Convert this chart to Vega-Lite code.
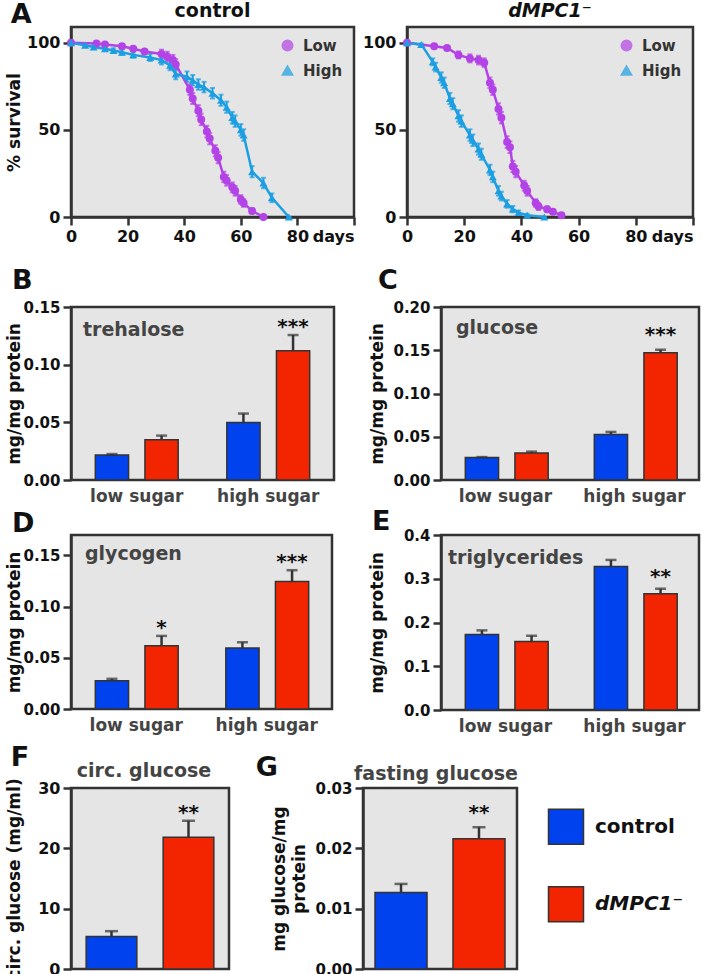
{
"$schema": "https://vega.github.io/schema/vega-lite/v6.json",
"autosize": {"type": "pad"},
"padding": {"left": 3, "top": 0, "right": 2, "bottom": 2},
"background": "white",
"config": {
  "font": "DejaVu Sans",
  "view": {"fill": "#E5E5E5", "stroke": "#333333", "strokeWidth": 2.5},
  "axis": {"labelFontWeight": "bold", "labelColor": "#111111", "labelFontSize": 15, "titleFontWeight": "bold", "titleColor": "#111111", "titleFontSize": 17, "domainColor": "#333333", "domainWidth": 2.5, "tickColor": "#333333", "tickWidth": 2.5, "tickSize": 8, "labelPadding": 3, "grid": false},
  "title": {"fontWeight": "bold", "color": "#111111"}
},
"datasets": {
  "surv": [
    {"g":"control","diet":"Low","day":0,"s":100,"lo":100,"hi":100},
    {"g":"control","diet":"Low","day":9,"s":99.6,"lo":99.2,"hi":100},
    {"g":"control","diet":"Low","day":12,"s":99,"lo":98.2,"hi":99.8},
    {"g":"control","diet":"Low","day":18,"s":98,"lo":97,"hi":99},
    {"g":"control","diet":"Low","day":22,"s":96.5,"lo":95.3,"hi":97.7},
    {"g":"control","diet":"Low","day":26,"s":95,"lo":93.7,"hi":96.3},
    {"g":"control","diet":"Low","day":32,"s":93.5,"lo":91,"hi":96},
    {"g":"control","diet":"Low","day":34,"s":92,"lo":89.2,"hi":94.8},
    {"g":"control","diet":"Low","day":36,"s":90,"lo":87,"hi":93},
    {"g":"control","diet":"Low","day":37,"s":87.5,"lo":84.5,"hi":90.5},
    {"g":"control","diet":"Low","day":42,"s":73,"lo":70,"hi":76},
    {"g":"control","diet":"Low","day":43,"s":68,"lo":64.8,"hi":71.2},
    {"g":"control","diet":"Low","day":45,"s":61,"lo":57.8,"hi":64.2},
    {"g":"control","diet":"Low","day":46,"s":56,"lo":52.7,"hi":59.3},
    {"g":"control","diet":"Low","day":48,"s":49,"lo":45.7,"hi":52.3},
    {"g":"control","diet":"Low","day":49,"s":45,"lo":41.7,"hi":48.3},
    {"g":"control","diet":"Low","day":51,"s":38,"lo":34.8,"hi":41.2},
    {"g":"control","diet":"Low","day":52,"s":34,"lo":30.8,"hi":37.2},
    {"g":"control","diet":"Low","day":54,"s":23,"lo":20,"hi":26},
    {"g":"control","diet":"Low","day":55,"s":21,"lo":18,"hi":24},
    {"g":"control","diet":"Low","day":57,"s":17,"lo":14.2,"hi":19.8},
    {"g":"control","diet":"Low","day":58,"s":15,"lo":12.2,"hi":17.8},
    {"g":"control","diet":"Low","day":60,"s":10,"lo":7.5,"hi":12.5},
    {"g":"control","diet":"Low","day":61,"s":8,"lo":5.8,"hi":10.2},
    {"g":"control","diet":"Low","day":64,"s":3.5,"lo":2,"hi":5},
    {"g":"control","diet":"Low","day":68,"s":0,"lo":0,"hi":0},
    {"g":"control","diet":"High","day":0,"s":100,"lo":100,"hi":100},
    {"g":"control","diet":"High","day":5,"s":98.5,"lo":97.7,"hi":99.3},
    {"g":"control","diet":"High","day":8,"s":97.5,"lo":96.5,"hi":98.5},
    {"g":"control","diet":"High","day":12,"s":96.5,"lo":95.3,"hi":97.7},
    {"g":"control","diet":"High","day":15,"s":95.5,"lo":94.2,"hi":96.8},
    {"g":"control","diet":"High","day":18,"s":94.5,"lo":93,"hi":96},
    {"g":"control","diet":"High","day":22,"s":93,"lo":91.4,"hi":94.6},
    {"g":"control","diet":"High","day":28,"s":91.5,"lo":89.5,"hi":93.5},
    {"g":"control","diet":"High","day":32,"s":90,"lo":87.5,"hi":92.5},
    {"g":"control","diet":"High","day":35,"s":87,"lo":84.2,"hi":89.8},
    {"g":"control","diet":"High","day":37,"s":82,"lo":79,"hi":85},
    {"g":"control","diet":"High","day":41,"s":80.5,"lo":77.5,"hi":83.5},
    {"g":"control","diet":"High","day":43,"s":78.5,"lo":75.5,"hi":81.5},
    {"g":"control","diet":"High","day":45,"s":76,"lo":73,"hi":79},
    {"g":"control","diet":"High","day":47,"s":74.5,"lo":71.5,"hi":77.5},
    {"g":"control","diet":"High","day":50,"s":71,"lo":68,"hi":74},
    {"g":"control","diet":"High","day":53,"s":67,"lo":63.8,"hi":70.2},
    {"g":"control","diet":"High","day":55,"s":63,"lo":59.8,"hi":66.2},
    {"g":"control","diet":"High","day":57,"s":57,"lo":53.7,"hi":60.3},
    {"g":"control","diet":"High","day":58,"s":55,"lo":51.7,"hi":58.3},
    {"g":"control","diet":"High","day":60,"s":50,"lo":46.7,"hi":53.3},
    {"g":"control","diet":"High","day":61,"s":47,"lo":43.7,"hi":50.3},
    {"g":"control","diet":"High","day":64,"s":26,"lo":22.8,"hi":29.2},
    {"g":"control","diet":"High","day":68,"s":19.5,"lo":16.5,"hi":22.5},
    {"g":"control","diet":"High","day":71,"s":11,"lo":8.5,"hi":13.5},
    {"g":"control","diet":"High","day":77,"s":0,"lo":0,"hi":0},
    {"g":"dMPC1","diet":"Low","day":0,"s":100,"lo":100,"hi":100},
    {"g":"dMPC1","diet":"Low","day":9.5,"s":98,"lo":97.2,"hi":98.8},
    {"g":"dMPC1","diet":"Low","day":14,"s":97,"lo":96,"hi":98},
    {"g":"dMPC1","diet":"Low","day":18,"s":93,"lo":91,"hi":95},
    {"g":"dMPC1","diet":"Low","day":22,"s":91,"lo":88.7,"hi":93.3},
    {"g":"dMPC1","diet":"Low","day":25,"s":90,"lo":87.5,"hi":92.5},
    {"g":"dMPC1","diet":"Low","day":27,"s":88.5,"lo":86,"hi":91},
    {"g":"dMPC1","diet":"Low","day":29,"s":77,"lo":74,"hi":80},
    {"g":"dMPC1","diet":"Low","day":30,"s":73,"lo":70,"hi":76},
    {"g":"dMPC1","diet":"Low","day":32,"s":62,"lo":58.8,"hi":65.2},
    {"g":"dMPC1","diet":"Low","day":33,"s":57,"lo":53.7,"hi":60.3},
    {"g":"dMPC1","diet":"Low","day":35,"s":43,"lo":39.7,"hi":46.3},
    {"g":"dMPC1","diet":"Low","day":36,"s":40,"lo":36.7,"hi":43.3},
    {"g":"dMPC1","diet":"Low","day":37,"s":29,"lo":25.8,"hi":32.2},
    {"g":"dMPC1","diet":"Low","day":38,"s":26,"lo":22.8,"hi":29.2},
    {"g":"dMPC1","diet":"Low","day":41,"s":18,"lo":15.2,"hi":20.8},
    {"g":"dMPC1","diet":"Low","day":42,"s":15,"lo":12.2,"hi":17.8},
    {"g":"dMPC1","diet":"Low","day":45,"s":8,"lo":5.8,"hi":10.2},
    {"g":"dMPC1","diet":"Low","day":46,"s":6,"lo":4,"hi":8},
    {"g":"dMPC1","diet":"Low","day":49,"s":4.5,"lo":3,"hi":6},
    {"g":"dMPC1","diet":"Low","day":51,"s":3,"lo":1.8,"hi":4.2},
    {"g":"dMPC1","diet":"Low","day":54,"s":1,"lo":0.2,"hi":1.8},
    {"g":"dMPC1","diet":"High","day":0,"s":100,"lo":100,"hi":100},
    {"g":"dMPC1","diet":"High","day":5,"s":99,"lo":98.5,"hi":99.5},
    {"g":"dMPC1","diet":"High","day":9,"s":89,"lo":87,"hi":91},
    {"g":"dMPC1","diet":"High","day":10,"s":86,"lo":83.5,"hi":88.5},
    {"g":"dMPC1","diet":"High","day":12,"s":80,"lo":77,"hi":83},
    {"g":"dMPC1","diet":"High","day":13,"s":77,"lo":74,"hi":80},
    {"g":"dMPC1","diet":"High","day":15,"s":68,"lo":64.8,"hi":71.2},
    {"g":"dMPC1","diet":"High","day":16,"s":65,"lo":61.8,"hi":68.2},
    {"g":"dMPC1","diet":"High","day":18,"s":58,"lo":54.7,"hi":61.3},
    {"g":"dMPC1","diet":"High","day":19,"s":55,"lo":51.7,"hi":58.3},
    {"g":"dMPC1","diet":"High","day":22,"s":47,"lo":43.7,"hi":50.3},
    {"g":"dMPC1","diet":"High","day":23,"s":44,"lo":40.7,"hi":47.3},
    {"g":"dMPC1","diet":"High","day":25,"s":39,"lo":35.8,"hi":42.2},
    {"g":"dMPC1","diet":"High","day":26,"s":36,"lo":32.8,"hi":39.2},
    {"g":"dMPC1","diet":"High","day":29,"s":27,"lo":24,"hi":30},
    {"g":"dMPC1","diet":"High","day":30,"s":23,"lo":20,"hi":26},
    {"g":"dMPC1","diet":"High","day":32,"s":15,"lo":12.2,"hi":17.8},
    {"g":"dMPC1","diet":"High","day":33,"s":12,"lo":9.5,"hi":14.5},
    {"g":"dMPC1","diet":"High","day":35,"s":7.5,"lo":5.3,"hi":9.7},
    {"g":"dMPC1","diet":"High","day":37,"s":4.5,"lo":2.7,"hi":6.3},
    {"g":"dMPC1","diet":"High","day":39,"s":2.5,"lo":1.3,"hi":3.7},
    {"g":"dMPC1","diet":"High","day":42,"s":1,"lo":0.2,"hi":1.8},
    {"g":"dMPC1","diet":"High","day":48,"s":0,"lo":0,"hi":0}
  ],
  "bars": [
    {"panel":"B","sugar":"low sugar","geno":"control","value":0.0217,"hi":0.0225,"sig":""},
    {"panel":"B","sugar":"low sugar","geno":"dMPC1\u207b","value":0.0348,"hi":0.0385,"sig":""},
    {"panel":"B","sugar":"high sugar","geno":"control","value":0.0498,"hi":0.0576,"sig":""},
    {"panel":"B","sugar":"high sugar","geno":"dMPC1\u207b","value":0.112,"hi":0.1257,"sig":"***"},
    {"panel":"C","sugar":"low sugar","geno":"control","value":0.0259,"hi":0.0265,"sig":""},
    {"panel":"C","sugar":"low sugar","geno":"dMPC1\u207b","value":0.0313,"hi":0.0328,"sig":""},
    {"panel":"C","sugar":"high sugar","geno":"control","value":0.0525,"hi":0.0556,"sig":""},
    {"panel":"C","sugar":"high sugar","geno":"dMPC1\u207b","value":0.147,"hi":0.1506,"sig":"***"},
    {"panel":"D","sugar":"low sugar","geno":"control","value":0.0275,"hi":0.0295,"sig":""},
    {"panel":"D","sugar":"low sugar","geno":"dMPC1\u207b","value":0.0619,"hi":0.0714,"sig":"*"},
    {"panel":"D","sugar":"high sugar","geno":"control","value":0.0596,"hi":0.0652,"sig":""},
    {"panel":"D","sugar":"high sugar","geno":"dMPC1\u207b","value":0.1245,"hi":0.1356,"sig":"***"},
    {"panel":"E","sugar":"low sugar","geno":"control","value":0.1727,"hi":0.182,"sig":""},
    {"panel":"E","sugar":"low sugar","geno":"dMPC1\u207b","value":0.1566,"hi":0.1697,"sig":""},
    {"panel":"E","sugar":"high sugar","geno":"control","value":0.3278,"hi":0.343,"sig":""},
    {"panel":"E","sugar":"high sugar","geno":"dMPC1\u207b","value":0.2656,"hi":0.2772,"sig":"**"},
    {"panel":"F","geno":"control","value":5.38,"hi":6.27,"sig":""},
    {"panel":"F","geno":"dMPC1\u207b","value":21.85,"hi":24.57,"sig":"**"},
    {"panel":"G","geno":"control","value":0.0127,"hi":0.0141,"sig":""},
    {"panel":"G","geno":"dMPC1\u207b","value":0.0216,"hi":0.0235,"sig":"**"}
  ]
},
"resolve": {"scale": {"color": "independent", "shape": "independent"}, "legend": {"color": "independent", "shape": "independent"}},
"spacing": 19,
"vconcat": [
  {
    "title": {"text": "A", "anchor": "start", "frame": "bounds", "fontSize": 27, "baseline": "alphabetic", "dx": 7, "offset": -49},
    "spacing": 3,
    "resolve": {"scale": {"color": "independent", "shape": "independent"}, "legend": {"color": "independent", "shape": "independent"}},
    "hconcat": [
      {
        "width": 283, "height": 190,
        "title": {"text": "control", "fontSize": 19, "frame": "group", "anchor": "middle", "baseline": "alphabetic", "offset": -9},
        "data": {"name": "surv"},
        "transform": [{"filter": "datum.g === 'control'"}],
        "layer": [
          {"mark": {"type": "errorbar", "ticks": true, "thickness": 2},
           "encoding": {
             "x": {"field": "day", "type": "quantitative", "scale": {"domain": [0, 100], "nice": false}, "axis": {"values": [0,20,40,60,80,100], "title": null, "labelFontSize": 16, "labelFlush": false, "labelOverlap": false, "labelExpr": "datum.value === 100 ? 'days' : datum.label", "labelAlign": {"condition": {"test": "datum.value === 100", "value": "right"}, "value": "center"}}},
             "y": {"field": "lo", "type": "quantitative", "scale": {"domain": [0, 109], "nice": false}, "axis": {"values": [0,50,100], "title": "% survival", "labelFontSize": 16, "minExtent": 42, "maxExtent": 42, "titlePadding": 6}},
             "y2": {"field": "hi"},
             "color": {"field": "diet", "type": "nominal", "scale": {"domain": ["Low","High"], "range": ["#B343E6","#1C9EE2"]}}}},
          {"mark": {"type": "line", "strokeWidth": 2.5},
           "encoding": {
             "x": {"field": "day", "type": "quantitative"},
             "y": {"field": "s", "type": "quantitative", "axis": {"values": [0,50,100], "title": "% survival", "labelFontSize": 16, "minExtent": 42, "maxExtent": 42, "titlePadding": 6}},
             "color": {"field": "diet", "type": "nominal", "scale": {"domain": ["Low","High"], "range": ["#B343E6","#1C9EE2"]}}}},
          {"mark": {"type": "point", "filled": true, "size": 64, "opacity": 1},
           "encoding": {
             "x": {"field": "day", "type": "quantitative"},
             "y": {"field": "s", "type": "quantitative", "axis": {"values": [0,50,100], "title": "% survival", "labelFontSize": 16, "minExtent": 42, "maxExtent": 42, "titlePadding": 6}},
             "color": {"field": "diet", "type": "nominal", "scale": {"domain": ["Low","High"], "range": ["#B343E6","#1C9EE2"]},
               "legend": {"title": null, "orient": "top-right", "offset": 8, "padding": 3, "labelFontSize": 15, "labelFontWeight": "bold", "labelColor": "#333333", "symbolSize": 110, "rowPadding": 8, "labelOffset": 8}},
             "shape": {"field": "diet", "type": "nominal", "scale": {"domain": ["Low","High"], "range": ["circle","triangle-up"]},
               "legend": {"title": null, "orient": "top-right", "offset": 8, "padding": 3, "labelFontSize": 15, "labelFontWeight": "bold", "labelColor": "#333333", "symbolSize": 110, "rowPadding": 8, "labelOffset": 8}}}}
        ]
      },
      {
        "width": 286, "height": 190,
        "title": {"text": "dMPC1\u207b", "fontSize": 19, "fontStyle": "italic", "frame": "group", "anchor": "middle", "baseline": "alphabetic", "offset": -9},
        "data": {"name": "surv"},
        "transform": [{"filter": "datum.g === 'dMPC1'"}],
        "layer": [
          {"mark": {"type": "errorbar", "ticks": true, "thickness": 2},
           "encoding": {
             "x": {"field": "day", "type": "quantitative", "scale": {"domain": [0, 100], "nice": false}, "axis": {"values": [0,20,40,60,80,100], "title": null, "labelFontSize": 16, "labelFlush": false, "labelOverlap": false, "labelExpr": "datum.value === 100 ? 'days' : datum.label", "labelAlign": {"condition": {"test": "datum.value === 100", "value": "right"}, "value": "center"}}},
             "y": {"field": "lo", "type": "quantitative", "scale": {"domain": [0, 109], "nice": false}, "axis": {"values": [0,50,100], "title": null, "labelFontSize": 16, "minExtent": 45, "maxExtent": 45}},
             "y2": {"field": "hi"},
             "color": {"field": "diet", "type": "nominal", "scale": {"domain": ["Low","High"], "range": ["#B343E6","#1C9EE2"]}}}},
          {"mark": {"type": "line", "strokeWidth": 2.5},
           "encoding": {
             "x": {"field": "day", "type": "quantitative"},
             "y": {"field": "s", "type": "quantitative", "axis": {"values": [0,50,100], "title": null, "labelFontSize": 16, "minExtent": 45, "maxExtent": 45}},
             "color": {"field": "diet", "type": "nominal", "scale": {"domain": ["Low","High"], "range": ["#B343E6","#1C9EE2"]}}}},
          {"mark": {"type": "point", "filled": true, "size": 64, "opacity": 1},
           "encoding": {
             "x": {"field": "day", "type": "quantitative"},
             "y": {"field": "s", "type": "quantitative", "axis": {"values": [0,50,100], "title": null, "labelFontSize": 16, "minExtent": 45, "maxExtent": 45}},
             "color": {"field": "diet", "type": "nominal", "scale": {"domain": ["Low","High"], "range": ["#B343E6","#1C9EE2"]},
               "legend": {"title": null, "orient": "top-right", "offset": 8, "padding": 3, "labelFontSize": 15, "labelFontWeight": "bold", "labelColor": "#333333", "symbolSize": 110, "rowPadding": 8, "labelOffset": 8}},
             "shape": {"field": "diet", "type": "nominal", "scale": {"domain": ["Low","High"], "range": ["circle","triangle-up"]},
               "legend": {"title": null, "orient": "top-right", "offset": 8, "padding": 3, "labelFontSize": 15, "labelFontWeight": "bold", "labelColor": "#333333", "symbolSize": 110, "rowPadding": 8, "labelOffset": 8}}}}
        ]
      }
    ]
  },
  {
    "spacing": 7,
    "resolve": {"scale": {"color": "independent", "shape": "independent"}, "legend": {"color": "independent", "shape": "independent"}},
    "vconcat": [
      {
        "spacing": 0,
        "resolve": {"scale": {"color": "independent", "shape": "independent"}, "legend": {"color": "independent", "shape": "independent"}},
        "vconcat": [
          {
            "spacing": 30,
            "resolve": {"scale": {"color": "independent", "shape": "independent"}, "legend": {"color": "independent", "shape": "independent"}},
            "hconcat": [
              {
                "width": 263, "height": 173,
                "title": {"text": "B", "anchor": "start", "frame": "bounds", "fontSize": 27, "baseline": "alphabetic", "dx": 7, "offset": -16},
                "layer": [
                  {"data": {"name": "bars"}, "transform": [{"filter": "datum.panel === 'B'"}],
                   "layer": [
                     {"mark": {"type": "bar", "stroke": "#333333", "strokeWidth": 1.5},
                      "encoding": {
                        "x": {"field": "sugar", "type": "nominal", "sort": ["low sugar","high sugar"], "scale": {"paddingInner": 0, "paddingOuter": 0}, "axis": {"title": null, "labelAngle": 0, "ticks": false, "domain": false, "labelFontSize": 17, "labelColor": "#444444", "labelPadding": 8}},
                        "xOffset": {"field": "geno", "type": "nominal", "sort": ["control","dMPC1\u207b"], "scale": {"paddingInner": 0.33, "paddingOuter": 0.49}},
                        "y": {"field": "value", "type": "quantitative", "scale": {"domain": [0, 0.15], "nice": false}, "axis": {"values": [0,0.05,0.1,0.15], "format": ".2f", "title": "mg/mg protein", "minExtent": 48, "maxExtent": 48, "titlePadding": 0}},
                        "color": {"field": "geno", "type": "nominal", "scale": {"domain": ["control","dMPC1\u207b"], "range": ["#0043EE","#F22500"]}, "legend": null}}},
                     {"mark": {"type": "rule", "color": "#333333", "strokeWidth": 2.5},
                      "encoding": {"x": {"field": "sugar", "type": "nominal", "sort": ["low sugar","high sugar"]}, "xOffset": {"field": "geno", "type": "nominal", "sort": ["control","dMPC1\u207b"]}, "y": {"field": "value", "type": "quantitative"}, "y2": {"field": "hi"}}},
                     {"mark": {"type": "tick", "color": "#333333", "thickness": 2.5, "size": 11},
                      "encoding": {"x": {"field": "sugar", "type": "nominal", "sort": ["low sugar","high sugar"]}, "xOffset": {"field": "geno", "type": "nominal", "sort": ["control","dMPC1\u207b"]}, "y": {"field": "hi", "type": "quantitative"}}},
                     {"mark": {"type": "text", "fontSize": 20, "fontWeight": "bold", "baseline": "alphabetic", "dy": -2, "color": "#111111"},
                      "encoding": {"x": {"field": "sugar", "type": "nominal", "sort": ["low sugar","high sugar"]}, "xOffset": {"field": "geno", "type": "nominal", "sort": ["control","dMPC1\u207b"]}, "y": {"field": "hi", "type": "quantitative"}, "text": {"field": "sig"}}}
                   ]},
                  {"data": {"values": [{"name": "trehalose"}]},
                   "mark": {"type": "text", "align": "left", "baseline": "alphabetic", "dx": 12, "fontSize": 19, "fontWeight": "bold", "color": "#444444"},
                   "encoding": {"x": {"datum": "low sugar", "type": "nominal", "bandPosition": 0}, "y": {"datum": 0.125, "type": "quantitative"}, "text": {"field": "name"}}}
                ]
              },
              {
                "width": 258, "height": 173,
                "title": {"text": "C", "anchor": "start", "frame": "bounds", "fontSize": 27, "baseline": "alphabetic", "dx": 10, "offset": -16},
                "layer": [
                  {"data": {"name": "bars"}, "transform": [{"filter": "datum.panel === 'C'"}],
                   "layer": [
                     {"mark": {"type": "bar", "stroke": "#333333", "strokeWidth": 1.5},
                      "encoding": {
                        "x": {"field": "sugar", "type": "nominal", "sort": ["low sugar","high sugar"], "scale": {"paddingInner": 0, "paddingOuter": 0}, "axis": {"title": null, "labelAngle": 0, "ticks": false, "domain": false, "labelFontSize": 17, "labelColor": "#444444", "labelPadding": 8}},
                        "xOffset": {"field": "geno", "type": "nominal", "sort": ["control","dMPC1\u207b"], "scale": {"paddingInner": 0.33, "paddingOuter": 0.49}},
                        "y": {"field": "value", "type": "quantitative", "scale": {"domain": [0, 0.2], "nice": false}, "axis": {"values": [0,0.05,0.1,0.15,0.2], "format": ".2f", "title": "mg/mg protein", "minExtent": 48, "maxExtent": 48, "titlePadding": 7}},
                        "color": {"field": "geno", "type": "nominal", "scale": {"domain": ["control","dMPC1\u207b"], "range": ["#0043EE","#F22500"]}, "legend": null}}},
                     {"mark": {"type": "rule", "color": "#333333", "strokeWidth": 2.5},
                      "encoding": {"x": {"field": "sugar", "type": "nominal", "sort": ["low sugar","high sugar"]}, "xOffset": {"field": "geno", "type": "nominal", "sort": ["control","dMPC1\u207b"]}, "y": {"field": "value", "type": "quantitative"}, "y2": {"field": "hi"}}},
                     {"mark": {"type": "tick", "color": "#333333", "thickness": 2.5, "size": 11},
                      "encoding": {"x": {"field": "sugar", "type": "nominal", "sort": ["low sugar","high sugar"]}, "xOffset": {"field": "geno", "type": "nominal", "sort": ["control","dMPC1\u207b"]}, "y": {"field": "hi", "type": "quantitative"}}},
                     {"mark": {"type": "text", "fontSize": 20, "fontWeight": "bold", "baseline": "alphabetic", "dy": -9, "color": "#111111"},
                      "encoding": {"x": {"field": "sugar", "type": "nominal", "sort": ["low sugar","high sugar"]}, "xOffset": {"field": "geno", "type": "nominal", "sort": ["control","dMPC1\u207b"]}, "y": {"field": "hi", "type": "quantitative"}, "text": {"field": "sig"}}}
                   ]},
                  {"data": {"values": [{"name": "glucose"}]},
                   "mark": {"type": "text", "align": "left", "baseline": "alphabetic", "dx": 15, "fontSize": 19, "fontWeight": "bold", "color": "#444444"},
                   "encoding": {"x": {"datum": "low sugar", "type": "nominal", "bandPosition": 0}, "y": {"datum": 0.1688, "type": "quantitative"}, "text": {"field": "name"}}}
                ]
              }
            ]
          },
          {
            "spacing": 32,
            "resolve": {"scale": {"color": "independent", "shape": "independent"}, "legend": {"color": "independent", "shape": "independent"}},
            "hconcat": [
              {
                "width": 261, "height": 174,
                "title": {"text": "D", "anchor": "start", "frame": "bounds", "fontSize": 27, "baseline": "alphabetic", "dx": 7, "offset": -24},
                "layer": [
                  {"data": {"name": "bars"}, "transform": [{"filter": "datum.panel === 'D'"}],
                   "layer": [
                     {"mark": {"type": "bar", "stroke": "#333333", "strokeWidth": 1.5},
                      "encoding": {
                        "x": {"field": "sugar", "type": "nominal", "sort": ["low sugar","high sugar"], "scale": {"paddingInner": 0, "paddingOuter": 0}, "axis": {"title": null, "labelAngle": 0, "ticks": false, "domain": false, "labelFontSize": 17, "labelColor": "#444444", "labelPadding": 8}},
                        "xOffset": {"field": "geno", "type": "nominal", "sort": ["control","dMPC1\u207b"], "scale": {"paddingInner": 0.33, "paddingOuter": 0.49}},
                        "y": {"field": "value", "type": "quantitative", "scale": {"domain": [0, 0.17], "nice": false}, "axis": {"values": [0,0.05,0.1,0.15], "format": ".2f", "title": "mg/mg protein", "minExtent": 48, "maxExtent": 48, "titlePadding": 0}},
                        "color": {"field": "geno", "type": "nominal", "scale": {"domain": ["control","dMPC1\u207b"], "range": ["#0043EE","#F22500"]}, "legend": null}}},
                     {"mark": {"type": "rule", "color": "#333333", "strokeWidth": 2.5},
                      "encoding": {"x": {"field": "sugar", "type": "nominal", "sort": ["low sugar","high sugar"]}, "xOffset": {"field": "geno", "type": "nominal", "sort": ["control","dMPC1\u207b"]}, "y": {"field": "value", "type": "quantitative"}, "y2": {"field": "hi"}}},
                     {"mark": {"type": "tick", "color": "#333333", "thickness": 2.5, "size": 11},
                      "encoding": {"x": {"field": "sugar", "type": "nominal", "sort": ["low sugar","high sugar"]}, "xOffset": {"field": "geno", "type": "nominal", "sort": ["control","dMPC1\u207b"]}, "y": {"field": "hi", "type": "quantitative"}}},
                     {"mark": {"type": "text", "fontSize": 20, "fontWeight": "bold", "baseline": "alphabetic", "dy": -2, "color": "#111111"},
                      "encoding": {"x": {"field": "sugar", "type": "nominal", "sort": ["low sugar","high sugar"]}, "xOffset": {"field": "geno", "type": "nominal", "sort": ["control","dMPC1\u207b"]}, "y": {"field": "hi", "type": "quantitative"}, "text": {"field": "sig"}}}
                   ]},
                  {"data": {"values": [{"name": "glycogen"}]},
                   "mark": {"type": "text", "align": "left", "baseline": "alphabetic", "dx": 14, "fontSize": 19, "fontWeight": "bold", "color": "#444444"},
                   "encoding": {"x": {"datum": "low sugar", "type": "nominal", "bandPosition": 0}, "y": {"datum": 0.1456, "type": "quantitative"}, "text": {"field": "name"}}}
                ]
              },
              {
                "width": 258, "height": 175,
                "title": {"text": "E", "anchor": "start", "frame": "bounds", "fontSize": 27, "baseline": "alphabetic", "dx": 4, "offset": -29},
                "layer": [
                  {"data": {"name": "bars"}, "transform": [{"filter": "datum.panel === 'E'"}],
                   "layer": [
                     {"mark": {"type": "bar", "stroke": "#333333", "strokeWidth": 1.5},
                      "encoding": {
                        "x": {"field": "sugar", "type": "nominal", "sort": ["low sugar","high sugar"], "scale": {"paddingInner": 0, "paddingOuter": 0}, "axis": {"title": null, "labelAngle": 0, "ticks": false, "domain": false, "labelFontSize": 17, "labelColor": "#444444", "labelPadding": 8}},
                        "xOffset": {"field": "geno", "type": "nominal", "sort": ["control","dMPC1\u207b"], "scale": {"paddingInner": 0.33, "paddingOuter": 0.49}},
                        "y": {"field": "value", "type": "quantitative", "scale": {"domain": [0, 0.4], "nice": false}, "axis": {"values": [0,0.1,0.2,0.3,0.4], "format": ".1f", "title": "mg/mg protein", "minExtent": 48, "maxExtent": 48, "titlePadding": 7}},
                        "color": {"field": "geno", "type": "nominal", "scale": {"domain": ["control","dMPC1\u207b"], "range": ["#0043EE","#F22500"]}, "legend": null}}},
                     {"mark": {"type": "rule", "color": "#333333", "strokeWidth": 2.5},
                      "encoding": {"x": {"field": "sugar", "type": "nominal", "sort": ["low sugar","high sugar"]}, "xOffset": {"field": "geno", "type": "nominal", "sort": ["control","dMPC1\u207b"]}, "y": {"field": "value", "type": "quantitative"}, "y2": {"field": "hi"}}},
                     {"mark": {"type": "tick", "color": "#333333", "thickness": 2.5, "size": 11},
                      "encoding": {"x": {"field": "sugar", "type": "nominal", "sort": ["low sugar","high sugar"]}, "xOffset": {"field": "geno", "type": "nominal", "sort": ["control","dMPC1\u207b"]}, "y": {"field": "hi", "type": "quantitative"}}},
                     {"mark": {"type": "text", "fontSize": 20, "fontWeight": "bold", "baseline": "alphabetic", "dy": -6, "color": "#111111"},
                      "encoding": {"x": {"field": "sugar", "type": "nominal", "sort": ["low sugar","high sugar"]}, "xOffset": {"field": "geno", "type": "nominal", "sort": ["control","dMPC1\u207b"]}, "y": {"field": "hi", "type": "quantitative"}, "text": {"field": "sig"}}}
                   ]},
                  {"data": {"values": [{"name": "triglycerides"}]},
                   "mark": {"type": "text", "align": "left", "baseline": "alphabetic", "dx": 7, "fontSize": 19, "fontWeight": "bold", "color": "#444444"},
                   "encoding": {"x": {"datum": "low sugar", "type": "nominal", "bandPosition": 0}, "y": {"datum": 0.334, "type": "quantitative"}, "text": {"field": "name"}}}
                ]
              }
            ]
          }
        ]
      },
      {
        "spacing": 24,
        "resolve": {"scale": {"color": "independent", "shape": "independent"}, "legend": {"color": "independent", "shape": "independent"}},
        "hconcat": [
          {
            "title": {"text": "F", "anchor": "start", "frame": "bounds", "fontSize": 27, "baseline": "alphabetic", "dx": 7, "offset": -32},
            "resolve": {"scale": {"color": "independent", "shape": "independent"}, "legend": {"color": "independent", "shape": "independent"}},
            "vconcat": [
              {
                "width": 158, "height": 181,
                "title": {"text": "circ. glucose", "fontSize": 19, "color": "#444444", "frame": "group", "anchor": "middle", "baseline": "alphabetic", "offset": -18, "dx": -6},
                "data": {"name": "bars"},
                "transform": [{"filter": "datum.panel === 'F'"}],
                "layer": [
                  {"mark": {"type": "bar", "stroke": "#333333", "strokeWidth": 1.5},
                   "encoding": {
                     "x": {"field": "geno", "type": "nominal", "sort": ["control","dMPC1\u207b"], "scale": {"paddingInner": 0.342, "paddingOuter": 0.197}, "axis": null},
                     "y": {"field": "value", "type": "quantitative", "scale": {"domain": [0, 30], "nice": false}, "axis": {"values": [0,10,20,30], "title": "circ. glucose (mg/ml)", "labelFontSize": 16, "minExtent": 44, "maxExtent": 44, "titlePadding": 4}},
                     "color": {"field": "geno", "type": "nominal", "scale": {"domain": ["control","dMPC1\u207b"], "range": ["#0043EE","#F22500"]}, "legend": null}}},
                  {"mark": {"type": "rule", "color": "#333333", "strokeWidth": 2.5},
                   "encoding": {"x": {"field": "geno", "type": "nominal", "sort": ["control","dMPC1\u207b"]}, "y": {"field": "value", "type": "quantitative"}, "y2": {"field": "hi"}}},
                  {"mark": {"type": "tick", "color": "#333333", "thickness": 2.5, "size": 13},
                   "encoding": {"x": {"field": "geno", "type": "nominal", "sort": ["control","dMPC1\u207b"]}, "y": {"field": "hi", "type": "quantitative"}}},
                  {"mark": {"type": "text", "fontSize": 20, "fontWeight": "bold", "baseline": "alphabetic", "dy": -2, "color": "#111111"},
                   "encoding": {"x": {"field": "geno", "type": "nominal", "sort": ["control","dMPC1\u207b"]}, "y": {"field": "hi", "type": "quantitative"}, "text": {"field": "sig"}}}
                ]
              }
            ]
          },
          {
            "spacing": 25,
            "resolve": {"scale": {"color": "independent", "shape": "independent"}, "legend": {"color": "independent", "shape": "independent"}},
            "hconcat": [
              {
                "title": {"text": "G", "anchor": "start", "frame": "bounds", "fontSize": 27, "baseline": "alphabetic", "dx": -13, "offset": -39},
                "resolve": {"scale": {"color": "independent", "shape": "independent"}, "legend": {"color": "independent", "shape": "independent"}},
                "vconcat": [
                  {
                    "width": 154, "height": 181,
                    "title": {"text": "fasting glucose", "fontSize": 19, "color": "#444444", "frame": "group", "anchor": "middle", "baseline": "alphabetic", "offset": -18, "dx": -4},
                    "data": {"name": "bars"},
                    "transform": [{"filter": "datum.panel === 'G'"}],
                    "layer": [
                      {"mark": {"type": "bar", "stroke": "#333333", "strokeWidth": 1.5},
                       "encoding": {
                         "x": {"field": "geno", "type": "nominal", "sort": ["control","dMPC1\u207b"], "scale": {"paddingInner": 0.333, "paddingOuter": 0.154}, "axis": null},
                         "y": {"field": "value", "type": "quantitative", "scale": {"domain": [0, 0.03], "nice": false}, "axis": {"values": [0,0.01,0.02,0.03], "format": ".2f", "title": ["mg glucose/mg", "protein"], "titleLineHeight": 20, "minExtent": 45, "maxExtent": 45, "titlePadding": 10}},
                         "color": {"field": "geno", "type": "nominal", "scale": {"domain": ["control","dMPC1\u207b"], "range": ["#0043EE","#F22500"]}, "legend": null}}},
                      {"mark": {"type": "rule", "color": "#333333", "strokeWidth": 2.5},
                       "encoding": {"x": {"field": "geno", "type": "nominal", "sort": ["control","dMPC1\u207b"]}, "y": {"field": "value", "type": "quantitative"}, "y2": {"field": "hi"}}},
                      {"mark": {"type": "tick", "color": "#333333", "thickness": 2.5, "size": 13},
                       "encoding": {"x": {"field": "geno", "type": "nominal", "sort": ["control","dMPC1\u207b"]}, "y": {"field": "hi", "type": "quantitative"}}},
                      {"mark": {"type": "text", "fontSize": 20, "fontWeight": "bold", "baseline": "alphabetic", "dy": -8, "color": "#111111"},
                       "encoding": {"x": {"field": "geno", "type": "nominal", "sort": ["control","dMPC1\u207b"]}, "y": {"field": "hi", "type": "quantitative"}, "text": {"field": "sig"}}}
                    ]
                  }
                ]
              },
              {
                "width": 120, "height": 155,
                "view": {"fill": null, "stroke": null},
                "data": {"name": "bars"},
                "transform": [{"filter": "datum.panel === 'G'"}],
                "encoding": {
                  "y": {"field": "geno", "type": "nominal", "sort": ["control","dMPC1\u207b"], "scale": {"paddingInner": 0, "paddingOuter": 0.076}, "axis": null},
                  "x": {"datum": 0, "type": "quantitative", "scale": {"domain": [0, 1]}, "axis": null}
                },
                "layer": [
                  {"mark": {"type": "point", "shape": "square", "size": 1225, "filled": true, "opacity": 1, "stroke": "#333333", "strokeWidth": 1.5},
                   "encoding": {"color": {"field": "geno", "type": "nominal", "scale": {"domain": ["control","dMPC1\u207b"], "range": ["#0043EE","#F22500"]}, "legend": null}}},
                  {"transform": [{"filter": "datum.geno === 'control'"}],
                   "mark": {"type": "text", "align": "left", "baseline": "middle", "dx": 29, "fontSize": 20, "fontWeight": "bold", "color": "#111111"},
                   "encoding": {"text": {"field": "geno"}}},
                  {"transform": [{"filter": "datum.geno !== 'control'"}],
                   "mark": {"type": "text", "align": "left", "baseline": "middle", "dx": 29, "fontSize": 20, "fontWeight": "bold", "fontStyle": "italic", "color": "#111111"},
                   "encoding": {"text": {"field": "geno"}}}
                ]
              }
            ]
          }
        ]
      }
    ]
  }
]
}
